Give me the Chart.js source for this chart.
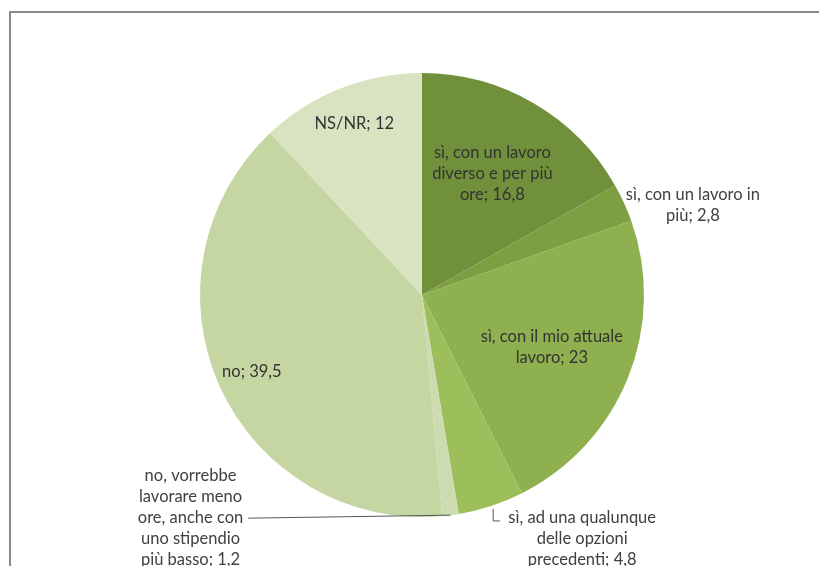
<!DOCTYPE html>
<html lang="it">
<head>
    <meta charset="utf-8">
    <script src="https://cdn.jsdelivr.net/npm/chart.js@4/dist/chart.umd.min.js"></script>
    <style>
        body { margin: 0; background: #fff; }
        #chart-box { position: relative; width: 819px; height: 566px; }
    </style>
</head>
<body>

<div id="chart-box">
    <canvas id="pie" width="819" height="566"></canvas>
</div>

<script>
    // categories, wrapped the way the labels show them
    const categories = [
        ["sì, con un lavoro", "diverso e per più", "ore"],
        ["sì, con un lavoro in", "più"],
        ["sì, con il mio attuale", "lavoro"],
        ["sì, ad una qualunque", "delle opzioni", "precedenti"],
        ["no, vorrebbe", "lavorare meno", "ore, anche con", "uno stipendio", "più basso"],
        ["no"],
        ["NS/NR"]
    ];
    const values = [16.8, 2.8, 23, 4.8, 1.2, 39.5, 12];
    const colors = ["#71903b", "#7e9e42", "#8eb04f", "#9cbe5b", "#cddcb0", "#c5d6a3", "#d7e3c1"];

    // where each label goes: inside at a fraction of the radius, or outside off the rim
    const placement = [
        { r: 0.63 },
        { rim: true, dx: 69, dy: 2 },
        { r: 0.63 },
        { rim: true, dx: 91, dy: 33, leader: "hook" },
        { rim: true, dx: -260, dy: 3, leader: "line" },
        { r: 0.84 },
        { r: 0.83 }
    ];

    const fmt = v => String(v).replace(".", ",");

    const frame = {
        id: "frame",
        beforeDraw(chart) {
            const c = chart.ctx;
            c.save();
            c.strokeStyle = "#8a8a8a";
            c.lineWidth = 2;
            c.beginPath();
            c.moveTo(10, 566);
            c.lineTo(10, 12);
            c.lineTo(819, 12);
            c.stroke();
            c.restore();
        }
    };

    const sliceLabels = {
        id: "sliceLabels",
        afterDraw(chart) {
            const c = chart.ctx;
            const arcs = chart.getDatasetMeta(0).data;
            const lh = 21;
            c.save();
            c.font = "16.5px Lato";
            c.textAlign = "center";
            c.textBaseline = "middle";
            arcs.forEach((arc, i) => {
                const p = placement[i];
                const mid = (arc.startAngle + arc.endAngle) / 2;
                const lines = categories[i].slice();
                lines[lines.length - 1] += "; " + fmt(values[i]);
                let ax, ay;
                if (p.rim) {
                    const ex = arc.x + arc.outerRadius * Math.cos(mid);
                    const ey = arc.y + arc.outerRadius * Math.sin(mid);
                    ax = ex + p.dx;
                    ay = ey + p.dy;
                    c.strokeStyle = "#555";
                    c.lineWidth = 1;
                    if (p.leader === "line") {
                        const w = Math.max(...lines.map(t => c.measureText(t).width));
                        c.beginPath();
                        c.moveTo(ex, ey);
                        c.lineTo(ax + w / 2 + 5, ay);
                        c.stroke();
                    } else if (p.leader === "hook") {
                        c.beginPath();
                        c.moveTo(ex + 2, ey + 3);
                        c.lineTo(ex + 2, ey + 15);
                        c.lineTo(ex + 9, ey + 15);
                        c.stroke();
                    }
                    c.fillStyle = "#404040";
                } else {
                    ax = arc.x + arc.outerRadius * p.r * Math.cos(mid);
                    ay = arc.y + arc.outerRadius * p.r * Math.sin(mid);
                    c.fillStyle = "#333333";
                }
                const top = ay - (lines.length - 1) * lh / 2;
                lines.forEach((t, k) => c.fillText(t, ax, top + k * lh));
            });
            c.restore();
        }
    };

    const ch = new Chart(document.getElementById("pie").getContext("2d"), {
        type: "pie",
        data: {
            labels: categories,
            datasets: [{
                data: values,
                backgroundColor: colors,
                borderWidth: 0
            }]
        },
        options: {
            responsive: false,
            animation: false,
            layout: { padding: { left: 200, right: 175, top: 73, bottom: 49 } },
            plugins: {
                legend: { display: false },
                tooltip: { enabled: false }
            }
        },
        plugins: [frame, sliceLabels]
    });
</script>

</body>
</html>
